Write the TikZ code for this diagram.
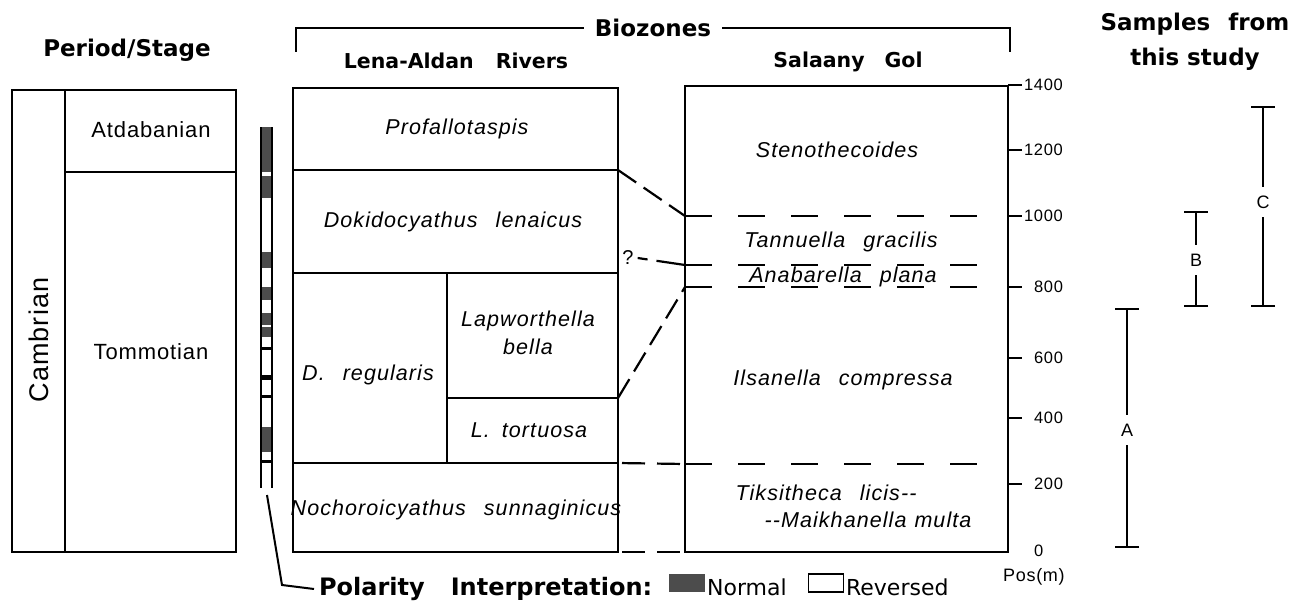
\documentclass[tikz,border=0pt]{standalone}
\usepackage{fontspec}
\setmainfont{DejaVu Sans}
\newfontfamily\lib[LetterSpace=4]{Liberation Sans}
\newfontfamily\libit[LetterSpace=5]{Liberation Sans}
\usetikzlibrary{arrows.meta}
\newcommand{\fs}[1]{\fontsize{#1}{#1}\selectfont}
\newcommand{\wg}{\hspace{18pt}}
\begin{document}
\begin{tikzpicture}[x=1pt,y=-1pt,line width=2.2pt,
  box/.style={draw,line width=2.2pt},
  lab/.style={inner sep=0pt,font=\lib\fs{22}},
  itl/.style={inner sep=0pt,font=\libit\itshape\fs{21.5}},
  hdr/.style={inner sep=0pt,font=\bfseries\fs{23}},
  subhdr/.style={inner sep=0pt,font=\bfseries\fs{20.5}},
  ticklab/.style={inner sep=0pt,anchor=west,font=\lib\fs{16.5}},
  corr/.style={line width=2.2pt,dash pattern=on 22pt off 9pt},
  corrh/.style={line width=2.2pt,dash pattern=on 23pt off 12pt,dash phase=31pt},
  zone/.style={line width=2.2pt,dash pattern=on 27pt off 26pt},
  normalband/.style={fill=black!70},
  blackband/.style={fill=black},
  sbar/.style={line width=2pt,-{Bar[width=24pt,line width=2pt]}},
  barlab/.style={inner sep=8pt,font=\lib\fs{18}}]
\useasboundingbox[fill=white] (0,0) rectangle (1291,608);

% ---------- headers
\node[hdr] (period) at (127,50) {Period/Stage};
\node[hdr] (bio) at (653,28) {Biozones};
\draw[line width=2pt] ([xshift=-10pt]bio.west) -- (296,28) -- (296,52);
\draw[line width=2pt] ([xshift=10pt]bio.east) -- (1010,28) -- (1010,52);
\node[subhdr] (lena) at (456,61) {Lena-Aldan\hspace{22pt}Rivers};
\node[subhdr] (sal) at (848,62) {Salaany\hspace{20pt}Gol};
\node[hdr,align=center,font=\bfseries\fontsize{23}{35}\selectfont] (samp) at (1195,42) {Samples\hspace{18pt}from\\this study};

% ---------- period / stage column
\draw[box] (12,90) rectangle (236,552);
\draw[box] (65,90) -- (65,552);
\draw[box] (65,172) -- (236,172);
\node[lab] (atd) at (151,130) {Atdabanian};
\node[lab] (tom) at (151,352) {Tommotian};
\node[lab,rotate=90,font=\lib\fs{27}] (camb) at (39,340) {Cambrian};

% ---------- polarity column
\foreach \a/\b in {127/172,176/198,252/268,287/300,313/325,327/337,427/452}
  \fill[normalband] (260,\a) rectangle (273,\b);
\foreach \a/\b in {347/349.5,375/380,395/397.5,460/463}
  \fill[blackband] (260,\a) rectangle (273,\b);
\draw[line width=2pt] (261,127) -- (261,488);
\draw[line width=2pt] (272,127) -- (272,488);
\coordinate (legtop) at (267,495);
\coordinate (legbend) at (282,585);
\node[inner sep=0pt,anchor=west,font=\bfseries\fs{24}] (pol) at (318,589) {Polarity\hspace{26pt}Interpretation:};
\draw[line width=2pt] (legtop) -- (legbend) -- ([xshift=-4pt]pol.west);
\node[normalband,minimum width=36pt,minimum height=18pt,inner sep=0pt] (nbox) at (687,583) {};
\node[inner sep=0pt,anchor=west,font=\fs{22}] (nlab) at (706,587) {Normal};
\node[draw,line width=1.6pt,minimum width=35pt,minimum height=18pt,inner sep=0pt] (rbox) at (826,583) {};
\node[inner sep=0pt,anchor=west,font=\fs{22}] (rlab) at (845,587) {Reversed};

% ---------- Lena-Aldan column
\draw[box] (293,88) rectangle (618,552);
\draw[box] (293,170) -- (618,170);
\draw[box] (293,273) -- (618,273);
\draw[box] (447,273) -- (447,463);
\draw[box] (447,398) -- (618,398);
\draw[box] (293,463) -- (618,463);
\coordinate (l170) at (618,170);
\coordinate (l398) at (618,398);
\coordinate (l463) at (618,463);
\coordinate (l552) at (618,552);
\node[itl] (prof) at (457,129) {Profallotaspis};
\node[itl] (doki) at (453,222) {Dokidocyathus\wg lenaicus};
\node[itl] (dreg) at (368,375) {D.\wg regularis};
\node[itl,align=center,font=\libit\itshape\fontsize{21.5}{28}\selectfont] (lapw) at (528,333) {Lapworthella\\bella};
\node[itl] (ltor) at (529,430) {L.\hspace{12pt}tortuosa};
\node[itl] (noch) at (456,510) {Nochoroicyathus\wg sunnaginicus};

% ---------- Salaany Gol column
\draw[box] (685,86) rectangle (1008,552);
\draw[line width=2.7pt] (1008,86) -- (1008,552);
\coordinate (s1000) at (685,216);
\coordinate (s860) at (685,265);
\coordinate (s800) at (685,287);
\coordinate (s260) at (685,464);
\coordinate (s0) at (685,552);
\draw[zone] (s1000) -- (982,216);
\draw[zone] (s860) -- (982,265);
\draw[zone] (s800) -- (982,287);
\draw[zone] (s260) -- (982,464);
\node[itl] (sten) at (837,150) {Stenothecoides};
\node[itl] (tann) at (841,242) {Tannuella\wg gracilis};
\node[itl] (anab) at (843,277) {Anabarella\wg plana};
\node[itl] (ilsa) at (843,380) {Ilsanella\wg compressa};
\node[itl] (tiks) at (826,493) {Tiksitheca\wg licis--};
\node[itl] (maik) at (868,520) {--Maikhanella\hspace{8pt}multa};

% ruler
\foreach \y/\v/\d in {85/1400/0,150/1200/0,216/1000/0,287/800/10,358/600/10,418/400/10,484/200/10}{
  \draw[line width=2pt] (1008,\y) -- (1022,\y);
  \node[ticklab] at (1023+\d,\y) {\v};
}
\node[ticklab] (zero) at (1033,551) {0};
\node[inner sep=0pt,anchor=west,font=\lib\fs{18}] (pos) at (1002,577) {Pos(m)};

% ---------- correlations
\draw[corr] (l170) -- (s1000);
\node[lab,font=\lib\fs{20}] (q) at (628,258) {?};
\draw[line width=2.2pt,dash pattern=on 10pt off 9pt on 40pt] ([xshift=3pt]q.east) -- (s860);
\draw[corr] (l398) -- (s800);
\draw[corrh] (l463) -- (s260);
\draw[corrh] (l552) -- (s0);

% ---------- samples
\node[barlab] (A) at (1127,430) {A};
\draw[sbar] (A.north) -- (1127,308);
\draw[sbar] (A.south) -- (1127,548);
\node[barlab] (B) at (1196,260) {B};
\draw[sbar] (B.north) -- (1196,211);
\draw[sbar] (B.south) -- (1196,307);
\node[barlab] (C) at (1263,202) {C};
\draw[sbar] (C.north) -- (1263,106);
\draw[sbar] (C.south) -- (1263,307);
\end{tikzpicture}
\end{document}
